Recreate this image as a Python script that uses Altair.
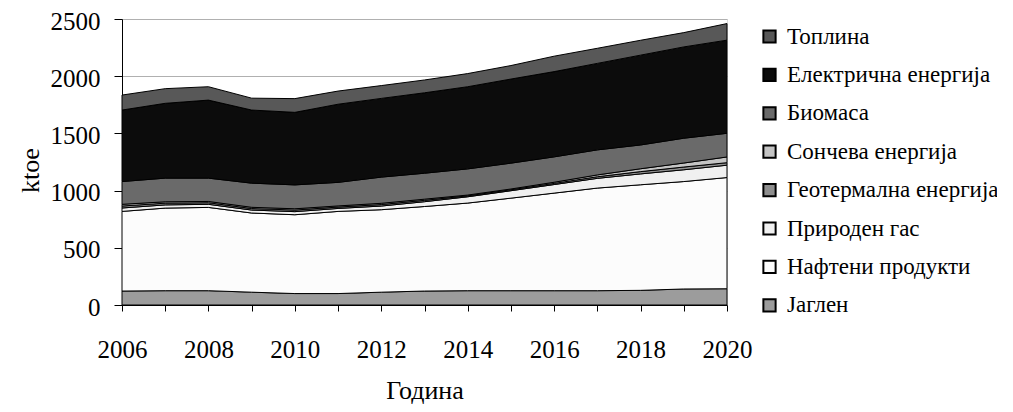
import altair as alt
import pandas as pd

years = list(range(2006, 2021))
coal = [122, 125, 125, 112, 100, 100, 112, 122, 125, 125, 125, 125, 128, 140, 142]
oil = [696, 722, 728, 692, 689, 718, 721, 739, 766, 809, 853, 897, 923, 939, 972]
gas = [30, 28, 27, 26, 27, 26, 32, 42, 55, 65, 75, 85, 95, 103, 108]
geo = [17, 15, 14, 13, 14, 12, 13, 12, 8, 8, 10, 14, 20, 24, 22]
solar = [15, 12, 11, 11, 11, 10, 11, 10, 7, 7, 10, 16, 25, 35, 50]
biomass = [199, 207, 204, 211, 209, 206, 229, 227, 229, 226, 222, 219, 208, 217, 207]
electricity = [625, 654, 682, 639, 634, 683, 688, 703, 718, 735, 745, 756, 785, 798, 814]
heat = [131, 128, 117, 104, 120, 115, 112, 112, 115, 118, 135, 132, 130, 125, 145]

# bottom -> top stacking order
series_names = ["Јаглен", "Нафтени продукти", "Природен гас", "Геотермална енергија",
                "Сончева енергија", "Биомаса", "Електрична енергија", "Топлина"]
series_values = [coal, oil, gas, geo, solar, biomass, electricity, heat]
series_colors = ["#9c9c9c", "#fcfcfc", "#f0f0f0", "#8e8e8e",
                 "#c4c4c4", "#6a6a6a", "#0c0c0c", "#585858"]

rows = []
for idx, (name, vals) in enumerate(zip(series_names, series_values)):
    for y, v in zip(years, vals):
        rows.append({"Година": y, "ktoe": v, "series": name, "idx": idx})
df = pd.DataFrame(rows)

legend_order = series_names[::-1]
legend_colors = series_colors[::-1]

FONT = "Liberation Serif"

chart = alt.Chart(df).mark_area(stroke="black", strokeWidth=1).encode(
    x=alt.X("Година:Q",
            scale=alt.Scale(domain=[2006, 2020], nice=False, zero=False),
            axis=alt.Axis(values=years, format="d",
                          labelExpr="datum.value % 2 == 0 ? datum.label : ''",
                          grid=False, tickSize=6, tickColor="black",
                          domainColor="black", labelPadding=26,
                          labelFont=FONT, labelFontSize=25, labelColor="black",
                          labelFlush=False, labelOverlap=False,
                          title="Година", titleFont=FONT, titleFontSize=26,
                          titleFontWeight="normal", titleColor="black",
                          titleY=85, titleBaseline="middle")),
    y=alt.Y("ktoe:Q", stack="zero",
            scale=alt.Scale(domain=[0, 2500], nice=False),
            axis=alt.Axis(values=[0, 500, 1000, 1500, 2000, 2500], format="d",
                          grid=True, gridColor="#b0b0b0", gridWidth=1,
                          tickSize=8, tickColor="black", domainColor="black",
                          labelPadding=14, labelFont=FONT, labelFontSize=25,
                          labelColor="black", labelOffset=2,
                          title="ktoe", titleFont=FONT, titleFontSize=26,
                          titleFontWeight="normal", titleColor="black",
                          titleX=-92, titleY=151, titleBaseline="middle")),
    color=alt.Color("series:N",
                    scale=alt.Scale(domain=legend_order, range=legend_colors),
                    legend=alt.Legend(orient="none", legendX=636, legendY=6,
                                      title=None, symbolType="square",
                                      symbolSize=150, symbolStrokeColor="black",
                                      symbolStrokeWidth=2, symbolOpacity=1,
                                      labelFont=FONT, labelFontSize=23,
                                      labelColor="black", labelOffset=6,
                                      rowPadding=14.4, labelLimit=400)),
    order=alt.Order("idx:Q", sort="ascending"),
).properties(
    width=605, height=286,
    autosize="none",
    padding={"left": 114, "top": 11, "right": 270, "bottom": 100},
).configure_view(strokeWidth=0).configure_legend(
    labelFont=FONT, labelFontSize=23
).configure(background="white", font=FONT)

chart.save("out.html", embed_options={"renderer": "svg", "actions": False})
